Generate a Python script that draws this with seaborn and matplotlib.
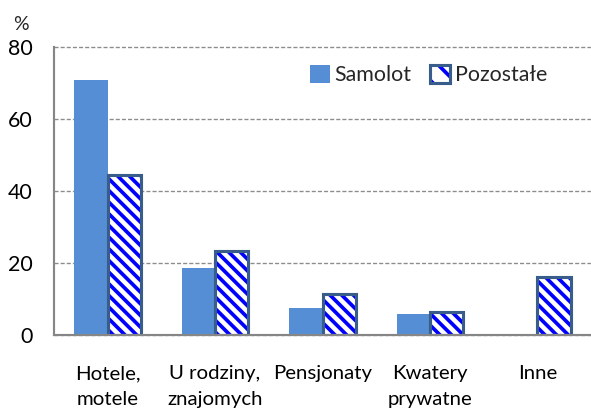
import matplotlib
matplotlib.use('Agg')
import matplotlib.pyplot as plt
import matplotlib.patches as mpatches
from matplotlib.legend_handler import HandlerTuple
import pandas as pd
import seaborn as sns

# dane z wykresu
categories = ['Hotele,\nmotele', 'U rodziny,\nznajomych', 'Pensjonaty', 'Kwatery\nprywatne', 'Inne']
samolot = [70.8, 18.6, 7.5, 5.8, 0.0]
pozostale = [44.5, 23.3, 11.4, 6.4, 16.1]
series = ['Samolot', 'Pozostałe']
y_ticks = [0, 20, 40, 60, 80]

samolot_color = '#558ED5'
hatch_color = '#0000FF'
edge_color = '#385D8A'
axis_gray = '#868686'
HATCH = '\\' * 4

df = pd.DataFrame({
    'kategoria': categories * 2,
    'wartosc': samolot + pozostale,
    'seria': [series[0]] * len(categories) + [series[1]] * len(categories),
})

sns.set_style('white')
plt.rcParams['font.family'] = ['Lato', 'DejaVu Sans']
plt.rcParams['hatch.linewidth'] = 1.9

DPI = 140
fig = plt.figure(figsize=(591 / DPI, 412 / DPI), dpi=DPI)
ax = fig.add_axes([54 / 591, 77 / 412, 1 - 54 / 591, 288 / 412])

sns.barplot(data=df, x='kategoria', y='wartosc', hue='seria', order=categories,
            hue_order=series, palette=[samolot_color, 'white'], width=0.62,
            gap=0, saturation=1, errorbar=None, legend=False, ax=ax,
            linewidth=0)

# druga seria - paski ukosne + obramowanie
for p in ax.containers[1].patches:
    p.set_facecolor('white')
    p.set_edgecolor(hatch_color)
    p.set_hatch(HATCH)
    p.set_linewidth(0)
    ax.add_patch(mpatches.Rectangle(p.get_xy(), p.get_width(), p.get_height(),
                                    fill=False, edgecolor=edge_color, linewidth=1.6,
                                    zorder=p.get_zorder() + 0.1))

ax.set_xlim(-0.5, -0.5 + 537 / 109)
ax.set_ylim(0, 80)
ax.set_yticks(y_ticks)
ax.set_yticklabels([str(t) for t in y_ticks])

# podzialki osi x na granicach kategorii, etykiety w srodku
ax.set_xticks([i - 0.5 for i in range(len(categories) + 1)])
ax.set_xticklabels([])
ax.set_xticks(range(len(categories)), minor=True)
ax.set_xticklabels(categories, minor=True, linespacing=1.65)
ax.tick_params(axis='x', which='major', length=3, width=1, color=axis_gray, direction='out')
ax.tick_params(axis='x', which='minor', length=0, pad=15.5, labelsize=10.5, labelcolor='black')
ax.tick_params(axis='y', length=3, width=1, color=axis_gray, direction='out', pad=8,
               labelsize=11, labelcolor='black')
ax.set_xlabel('')
ax.set_ylabel('')

ax.yaxis.grid(True, linestyle=(0, (3, 1.5)), color='#8C8C8C', linewidth=0.7)
ax.set_axisbelow(True)
for g in ax.get_ygridlines():
    g.set_clip_on(False)

sns.despine(ax=ax, top=True, right=True)
ax.spines['left'].set_color(axis_gray)
ax.spines['bottom'].set_color(axis_gray)
ax.spines['left'].set_linewidth(1.1)
ax.spines['bottom'].set_linewidth(1.1)

# legenda
h1 = mpatches.Patch(facecolor=samolot_color, edgecolor='none')
h2a = mpatches.Patch(facecolor='white', edgecolor=hatch_color, hatch='\\\\', linewidth=0)
h2b = mpatches.Patch(facecolor='none', edgecolor=edge_color, linewidth=1.6)
ax.legend([h1, (h2a, h2b)], series, handler_map={tuple: HandlerTuple(ndivide=1, pad=0)},
          loc='center left', bbox_to_anchor=(0.477, 0.903), ncol=2, frameon=False,
          fontsize=11, handlelength=0.95, handleheight=0.9, handletextpad=0.2,
          columnspacing=0.85, borderpad=0, borderaxespad=0)

fig.text(21 / 591, 1 - 25 / 412, '%', ha='center', va='center', fontsize=10)

fig.savefig('out.png', dpi=DPI)
